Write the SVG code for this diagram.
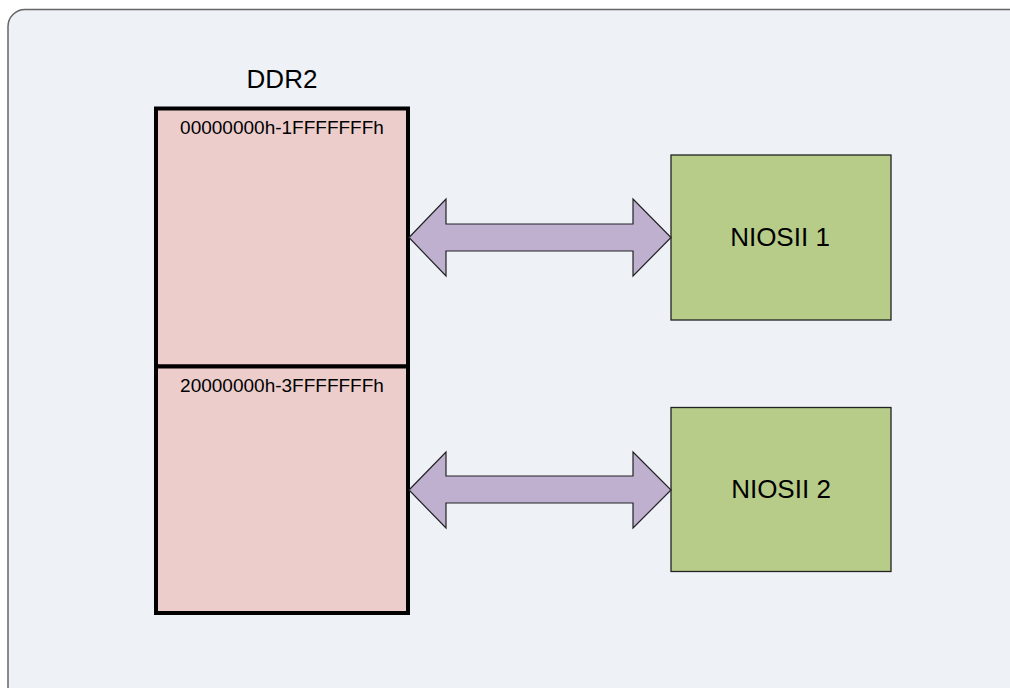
<svg xmlns="http://www.w3.org/2000/svg" width="1010" height="688" viewBox="0 0 1010 688">
  <style>
    text { font-family: "Liberation Sans", Arial, sans-serif; fill: #000; }
    .big { font-size: 26px; }
    .addr { font-size: 19px; }
    .mem { fill: #ECCDCB; stroke: #000; stroke-width: 4; }
    .cpu { fill: #B8CC89; stroke: #222; stroke-width: 1.3; }
    .bus { fill: #BFB0D0; stroke: #222; stroke-width: 1.2; stroke-linejoin: miter; }
  </style>
  <rect x="0" y="0" width="1010" height="688" fill="#FFFFFF"/>
  <rect id="panel" x="8" y="9.5" width="1030" height="700" rx="17" ry="17" fill="#EEF1F6" stroke="#666" stroke-width="1.5"/>
  <g id="ddr2">
    <text class="big" x="282" y="88" text-anchor="middle">DDR2</text>
    <g id="region1">
      <rect class="mem" x="156" y="108.5" width="252" height="258"/>
      <text class="addr" x="282" y="134" text-anchor="middle">00000000h-1FFFFFFFh</text>
    </g>
    <g id="region2">
      <rect class="mem" x="156" y="366.5" width="252" height="246.5"/>
      <text class="addr" x="282" y="392" text-anchor="middle">20000000h-3FFFFFFFh</text>
    </g>
  </g>
  <g id="niosii1">
    <rect class="cpu" x="671" y="155" width="220" height="165"/>
    <text class="big" x="780" y="246" text-anchor="middle">NIOSII 1</text>
  </g>
  <g id="niosii2">
    <rect class="cpu" x="671" y="407.5" width="220" height="164"/>
    <text class="big" x="781" y="498" text-anchor="middle">NIOSII 2</text>
  </g>
  <g id="connectors">
    <polygon class="bus" points="409,237.5 446,199 446,224 633,224 633,199 671,237.5 633,276 633,251 446,251 446,276"/>
    <polygon class="bus" points="409,490 446,452 446,476 633,476 633,452 671,490 633,528 633,503 446,503 446,528"/>
  </g>
</svg>
